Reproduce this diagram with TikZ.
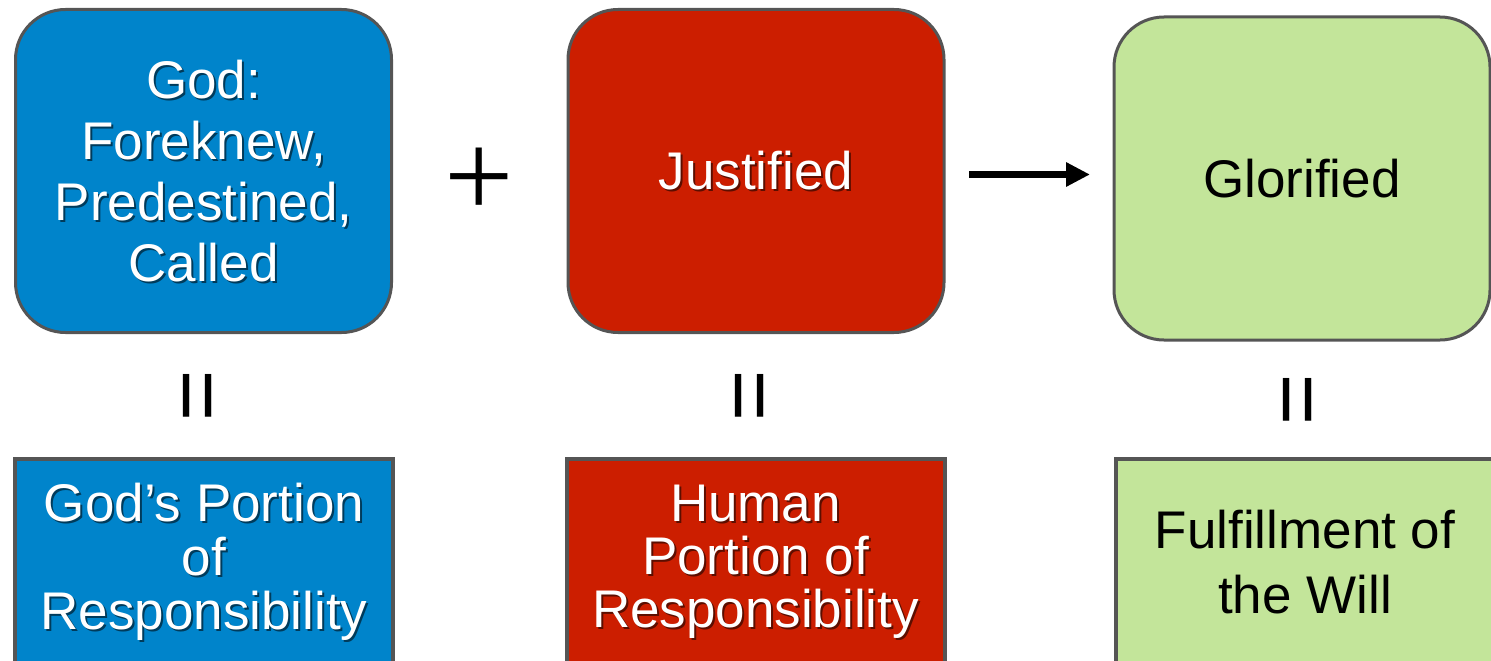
\documentclass[tikz,border=0pt]{standalone}
\usepackage{fontspec}
\setmainfont{Liberation Sans}
\newfontfamily\plusfont{Liberation Serif}
\usetikzlibrary{arrows.meta}
\definecolor{GodClr}{RGB}{0,132,203}
\definecolor{HumanClr}{RGB}{204,30,0}
\definecolor{WillClr}{RGB}{195,229,154}
\definecolor{EdgeClr}{RGB}{85,85,85}
\newcommand\shd[2]{\leavevmode\rlap{\kern2pt\raisebox{-2pt}[0pt][0pt]{\textcolor{#1}{#2}}}#2}
\tikzset{
  stage/.style={draw=EdgeClr,line width=3pt,rounded corners=50pt,minimum width=376pt,
    minimum height=323pt,inner sep=0pt,align=center,font=\fontsize{53}{61}\selectfont},
  portion/.style={draw=EdgeClr,line width=4pt,minimum width=378pt,minimum height=206pt,
    inner sep=0pt,align=center},
  equal/.style={rotate=90,inner sep=0pt,font=\fontsize{88}{88}\selectfont}
}

\begin{document}
\begin{tikzpicture}[x=1pt,y=-1pt]
\useasboundingbox (0,0) rectangle (1491,661);
\clip (0,0) rectangle (1491,661);

\node[stage,fill=GodClr,text=white] (G) at (203.5,171)
  {\shd{GodClr!45!black}{God:}\\\shd{GodClr!45!black}{Foreknew,}\\
   \shd{GodClr!45!black}{Predestined,}\\\shd{GodClr!45!black}{Called}};
\node[stage,fill=HumanClr,text=white] (J) at (756,171) {\shd{HumanClr!45!black}{Justified}};
\node[stage,fill=WillClr] (F) at (1302,178.5) {Glorified};

\node[inner sep=0pt,font=\plusfont\fontsize{123}{123}\selectfont] (P) at (479,183) {+};
\draw[line width=6.5pt,-{Triangle[length=24pt,width=23pt]},shorten <=23.5pt,shorten >=22.5pt]
  ([yshift=-3.5pt]J.east) -- ([yshift=-3.5pt]J.east -| F.west);

\node[equal] (E1) at (204.5,396) {=};
\node[equal] (E2) at (756.5,396) {=};
\node[equal] (E3) at (1304.5,400) {=};

\node[portion,fill=GodClr,text=white,font=\fontsize{53}{54}\selectfont] (GP) at (204,562)
  {\shd{GodClr!45!black}{God’s Portion}\\\shd{GodClr!45!black}{of}\\
   \shd{GodClr!45!black}{Responsibility}};
\node[portion,fill=HumanClr,text=white,font=\fontsize{53}{53}\selectfont] (HP) at (755.5,562)
  {\shd{HumanClr!45!black}{Human}\\\shd{HumanClr!45!black}{Portion of}\\
   \shd{HumanClr!45!black}{Responsibility}};
\node[portion,fill=WillClr,font=\fontsize{53}{65}\selectfont] (FW) at (1305,562)
  {Fulfillment of\\the Will};

\end{tikzpicture}
\end{document}
